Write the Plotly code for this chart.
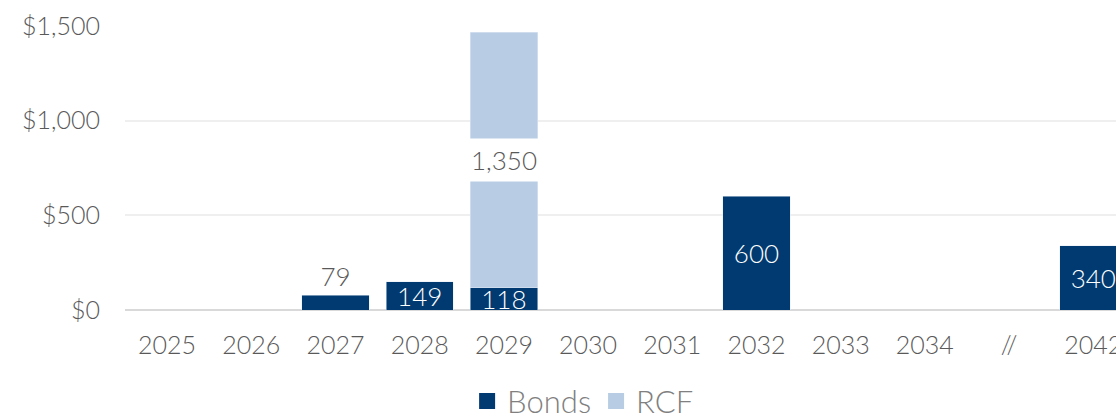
import plotly.graph_objects as go

categories = ["2025", "2026", "2027", "2028", "2029", "2030", "2031", "2032", "2033", "2034", "//", "2042"]
bonds = [None, None, 79, 149, 118, None, None, 600, None, None, None, 340]
rcf = [None, None, None, None, 1350, None, None, None, None, None, None, None]
y_ticks = [0, 500, 1000, 1500]
y_tick_labels = ["$0", "$500", "$1,000", "$1,500"]

BOND_C = "#003a70"
RCF_C = "#b8cce4"
TXT = "#595959"
FONT = "Lato"
W = 300

bond_text = [("" if v is None else f"{v:,}") for v in bonds]
bond_pos = ["outside" if (v is not None and v < 100) else "inside" for v in bonds]

fig = go.Figure()
fig.add_trace(go.Bar(
    x=categories, y=bonds, name="Bonds", marker_color=BOND_C,
    text=bond_text, textposition=bond_pos, insidetextanchor="middle",
    constraintext="none", showlegend=False,
    insidetextfont=dict(color="white", size=26, family=FONT, weight=W),
    outsidetextfont=dict(color=TXT, size=26, family=FONT, weight=W),
    cliponaxis=False, hoverinfo="skip",
))
fig.add_trace(go.Bar(
    x=categories, y=rcf, name="RCF", marker_color=RCF_C, hoverinfo="skip",
    showlegend=False,
))
# legend entries with square swatches
for name, col in [("Bonds", BOND_C), ("RCF", RCF_C)]:
    fig.add_trace(go.Scatter(
        x=[None], y=[None], mode="markers", name=name,
        marker=dict(symbol="square", size=16, color=col), hoverinfo="skip",
    ))

# label of the RCF segment on a white band (category index used for x)
for i, (b, r) in enumerate(zip(bonds, rcf)):
    if r is not None:
        fig.add_annotation(
            x=i, y=(b or 0) + r / 2, xref="x", yref="y", text=f"{r:,}",
            showarrow=False, bgcolor="white", width=74, height=42, borderpad=0,
            font=dict(color=TXT, size=26, family=FONT, weight=W),
        )

fig.update_layout(
    barmode="stack", bargap=0.2,
    width=1116, height=414,
    margin=dict(l=125, r=0, t=26, b=104, autoexpand=False),
    plot_bgcolor="white", paper_bgcolor="white",
    font=dict(family=FONT, color=TXT, size=25, weight=W),
    showlegend=True,
    legend=dict(orientation="h", traceorder="normal", itemsizing="trace",
                xref="container", yref="paper",
                x=0.5225, xanchor="center", y=-0.322, yanchor="middle",
                font=dict(size=31, color="#808080", family=FONT, weight=W),
                tracegroupgap=0),
)
fig.update_xaxes(
    type="category", range=[-0.5, 11.27], showgrid=False,
    showline=False, ticks="", ticklabelstandoff=18,
    tickfont=dict(size=25, color=TXT, family=FONT, weight=W),
    fixedrange=True,
)
fig.update_yaxes(
    range=[0, 1500], tickvals=y_ticks, ticktext=y_tick_labels,
    showgrid=True, gridcolor="#efefef", gridwidth=1.5,
    zeroline=True, zerolinecolor="#d9d9d9", zerolinewidth=1.5,
    ticks="", ticklabelstandoff=24, tickfont=dict(size=25, color=TXT, family=FONT, weight=W),
    fixedrange=True,
)

fig.write_html(
    "out.html", config={"displayModeBar": False},
    post_script="document.body.style.margin='0';document.documentElement.style.overflow='hidden';",
)
